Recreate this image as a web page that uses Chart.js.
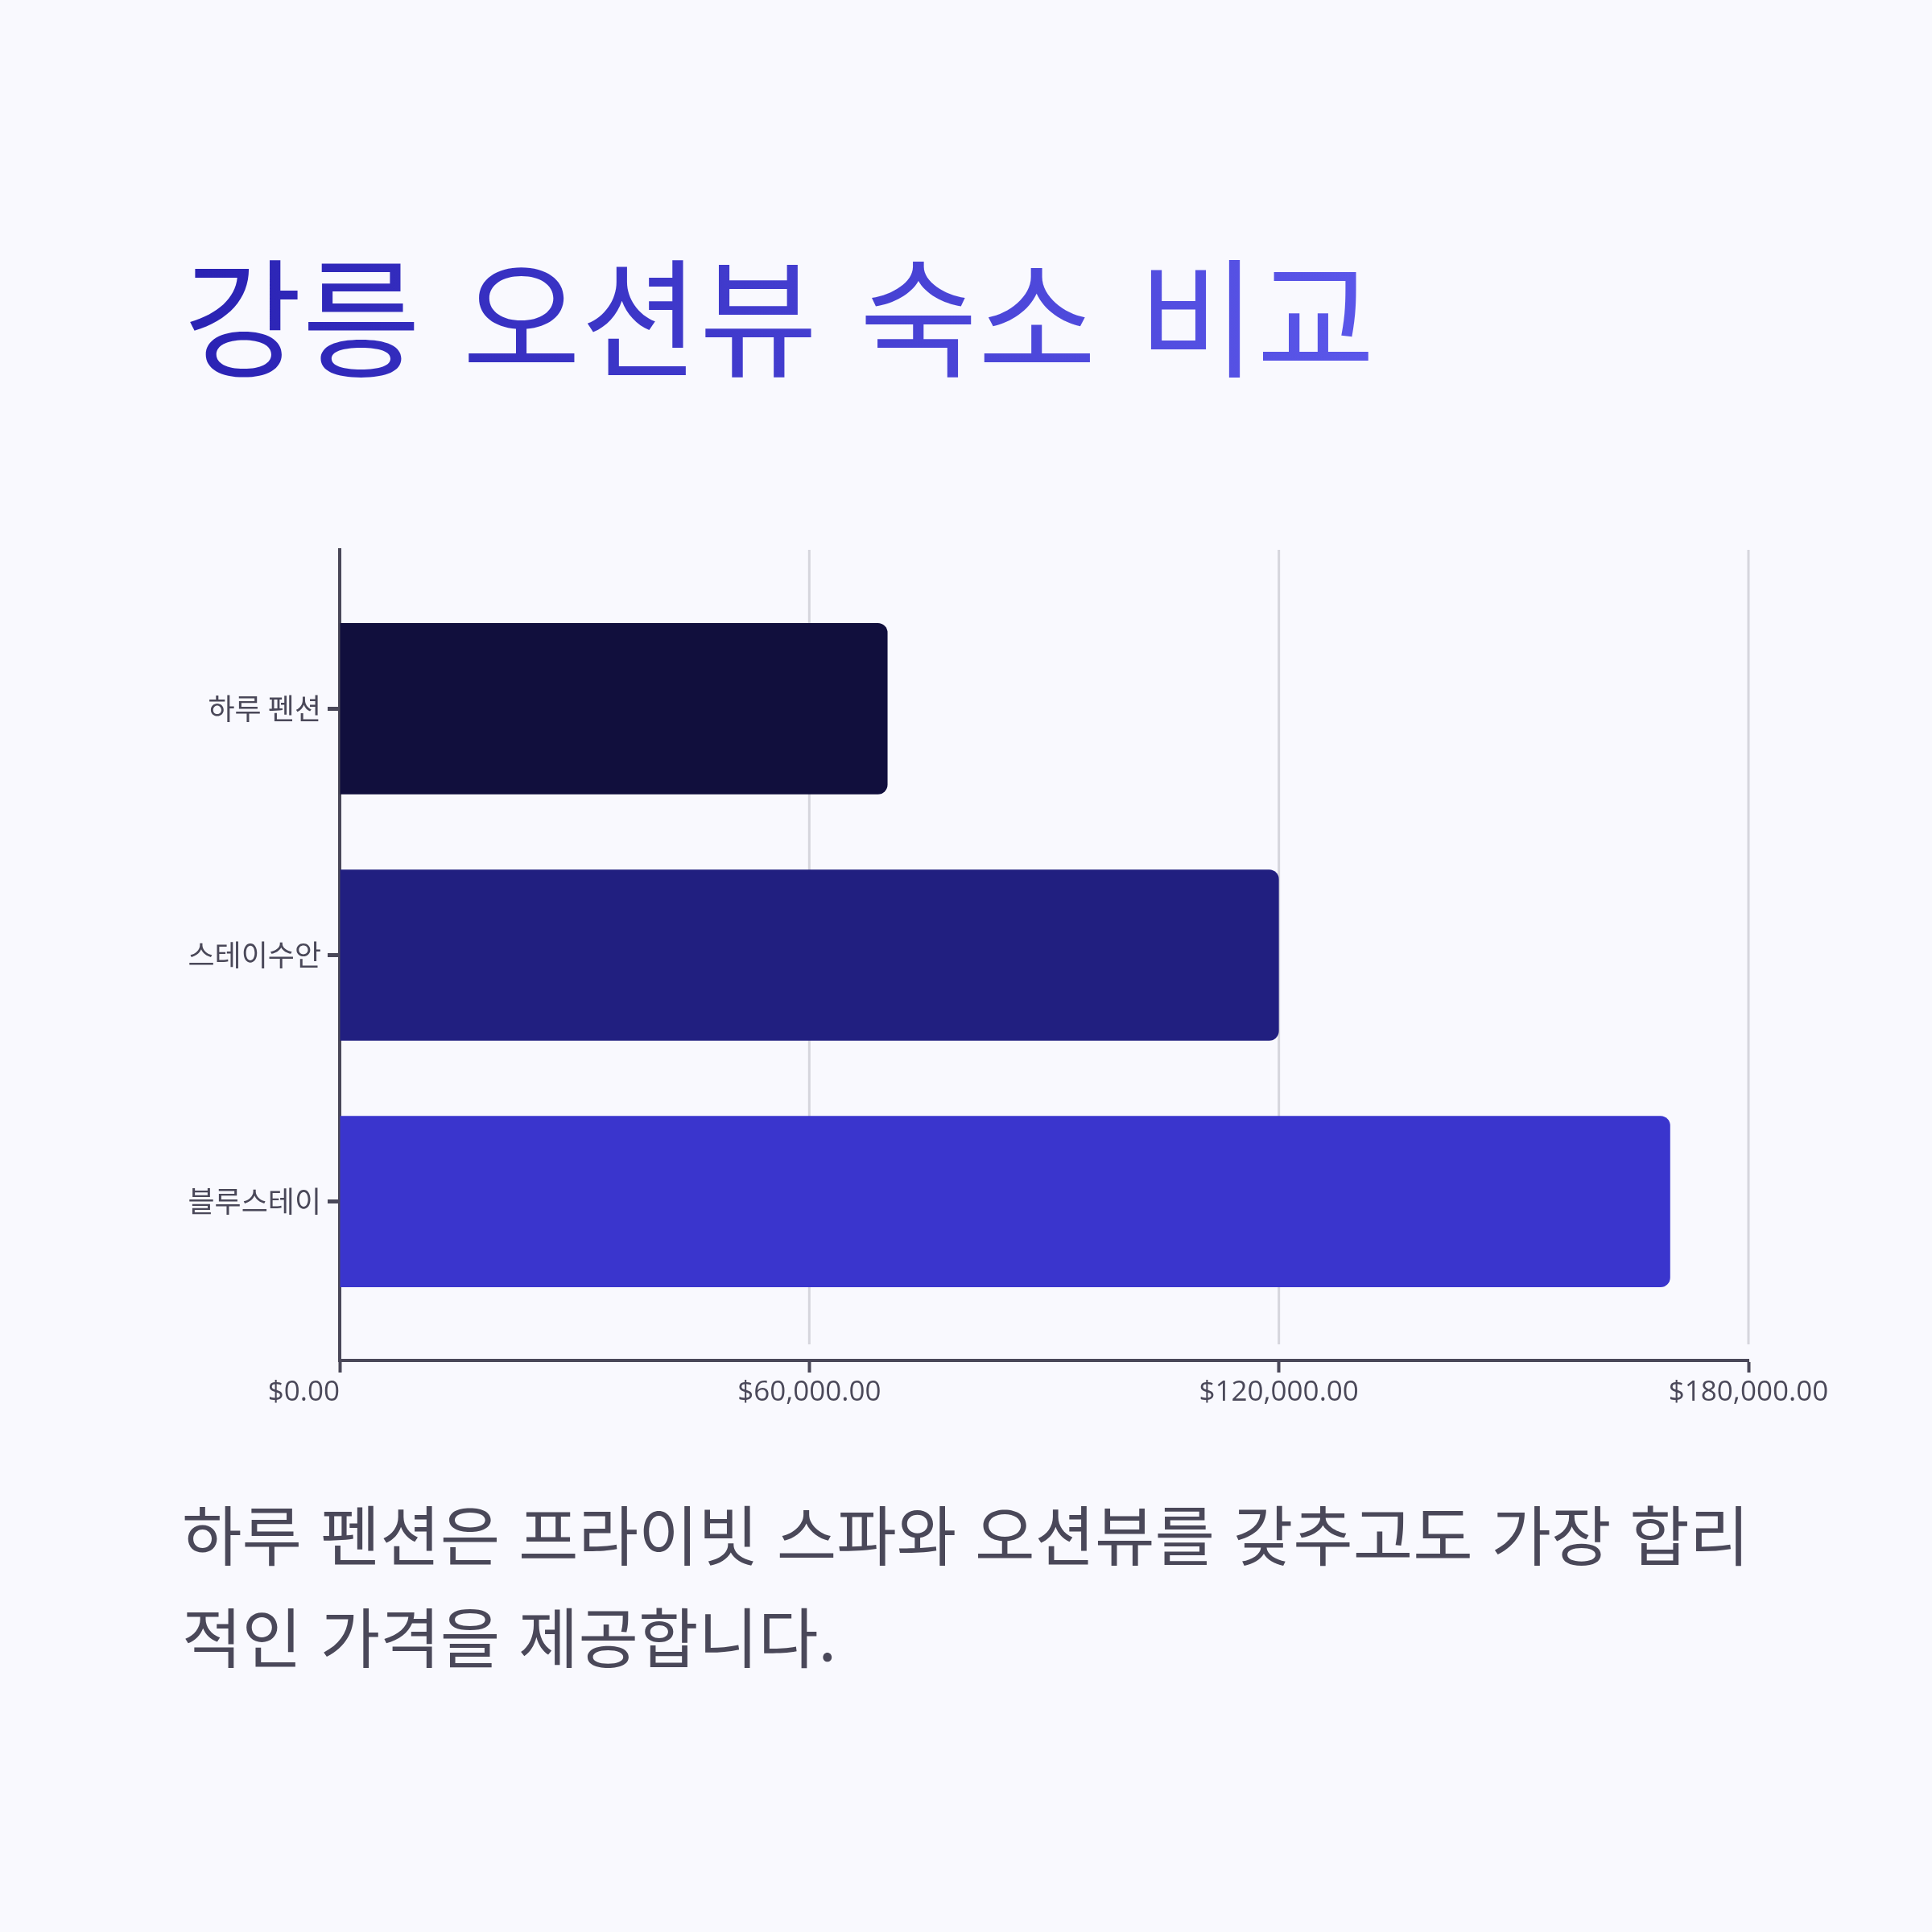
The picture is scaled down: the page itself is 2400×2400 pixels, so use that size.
<!DOCTYPE html>
<html lang="ko">
<head>
<meta charset="utf-8">
<script src="https://cdn.jsdelivr.net/npm/chart.js@4.4.1/dist/chart.umd.min.js"></script>
<style>
  html, body { margin: 0; padding: 0; }
  body {
    width: 2400px; height: 2400px; position: relative; overflow: hidden;
    background: #f9f9fe;
    font-family: "Noto Sans CJK KR", "Noto Sans", sans-serif;
  }
  #title {
    position: absolute; left: 228px; top: 290px; margin: 0;
    font-size: 160px; font-weight: 400; line-height: 1.2; white-space: nowrap;
    word-spacing: 7px;
    background: linear-gradient(90deg, #2a22b3 0%, #5b57ea 100%);
    -webkit-background-clip: text; background-clip: text; color: transparent;
    display: inline-block;
  }
  #chart-wrap { position: absolute; left: 0; top: 600px; width: 2400px; height: 1200px; }
  #caption {
    position: absolute; left: 226px; top: 1839px; width: 2120px; margin: 0;
    font-size: 81px; line-height: 127px; color: #4a4859; white-space: nowrap;
  }
</style>
</head>
<body>
<h1 id="title">강릉 오션뷰 숙소 비교</h1>
<div id="chart-wrap"><canvas id="chart-main"></canvas></div>
<p id="caption">하루 펜션은 프라이빗 스파와 오션뷰를 갖추고도 가장 합리<br>적인 가격을 제공합니다.</p>
<script>
// Data
const hotels = ['하루 펜션', '스테이수안', '블루스테이'];
const prices = [70000, 120000, 170000];
const barColors = ['#110f3d', '#211f80', '#3a35cd'];
const X_MAX = 180000;
const X_STEP = 60000;

const AXIS_COLOR = '#4a4859';
const GRID_COLOR = '#d6d6dd';
const TICK_FONT = '35px "Open Sans", "Noto Sans CJK KR"';

function formatPrice(v) {
    return '$' + Number(v).toLocaleString('en-US', { minimumFractionDigits: 2, maximumFractionDigits: 2 });
}

// Gridlines stop a little short of the x axis, like the original
const shortGrid = {
    id: 'shortGrid',
    beforeDatasetsDraw(chart) {
        const { ctx, chartArea, scales } = chart;
        ctx.save();
        ctx.strokeStyle = GRID_COLOR;
        ctx.lineWidth = 3;
        scales.x.ticks.forEach(t => {
            if (t.value === 0) return;
            const px = scales.x.getPixelForValue(t.value);
            ctx.beginPath();
            ctx.moveTo(px, chartArea.top);
            ctx.lineTo(px, chartArea.bottom - 20);
            ctx.stroke();
        });
        ctx.restore();
    }
};

// x labels: first one sits left of its tick, the rest are centred
const xLabels = {
    id: 'xLabels',
    afterDraw(chart) {
        const { ctx, chartArea, scales } = chart;
        ctx.save();
        ctx.font = TICK_FONT;
        ctx.fillStyle = AXIS_COLOR;
        ctx.textBaseline = 'middle';
        scales.x.ticks.forEach((t, i) => {
            ctx.textAlign = i === 0 ? 'right' : 'center';
            ctx.fillText(formatPrice(t.value), scales.x.getPixelForValue(t.value), chartArea.bottom + 40);
        });
        ctx.restore();
    }
};

const ctx = document.getElementById('chart-main').getContext('2d');
new Chart(ctx, {
    type: 'bar',
    data: {
        labels: hotels,
        datasets: [{
            data: prices,
            backgroundColor: barColors,
            borderRadius: 12,
            borderSkipped: 'start',
            categoryPercentage: 1,
            barPercentage: 0.695
        }]
    },
    options: {
        indexAxis: 'y',
        responsive: true,
        maintainAspectRatio: false,
        animation: false,
        layout: { padding: { left: 100, top: 83, right: 228, bottom: 0 } },
        plugins: {
            legend: { display: false },
            tooltip: { enabled: false }
        },
        scales: {
            x: {
                min: 0,
                max: X_MAX,
                ticks: { stepSize: X_STEP, display: false },
                grid: {
                    drawOnChartArea: false,
                    drawTicks: true,
                    tickLength: 15,
                    tickWidth: 4,
                    tickColor: AXIS_COLOR
                },
                border: { display: true, color: AXIS_COLOR, width: 4 },
                afterFit: s => { s.height = 110; }
            },
            y: {
                offset: true,
                ticks: {
                    color: AXIS_COLOR,
                    padding: 8,
                    font: { family: '"Noto Sans CJK KR", "Open Sans"', size: 36 }
                },
                grid: {
                    offset: false,
                    drawOnChartArea: false,
                    tickLength: 15,
                    tickWidth: 5,
                    tickColor: AXIS_COLOR
                },
                border: { display: true, color: AXIS_COLOR, width: 4 },
                // widen the outer padding of the category band
                afterBuildTicks: s => { s._startValue = -0.645; s._valueRange = 3.29; },
                afterFit: s => { s.width = 322; }
            }
        }
    },
    plugins: [shortGrid, xLabels]
});
</script>
</body>
</html>
